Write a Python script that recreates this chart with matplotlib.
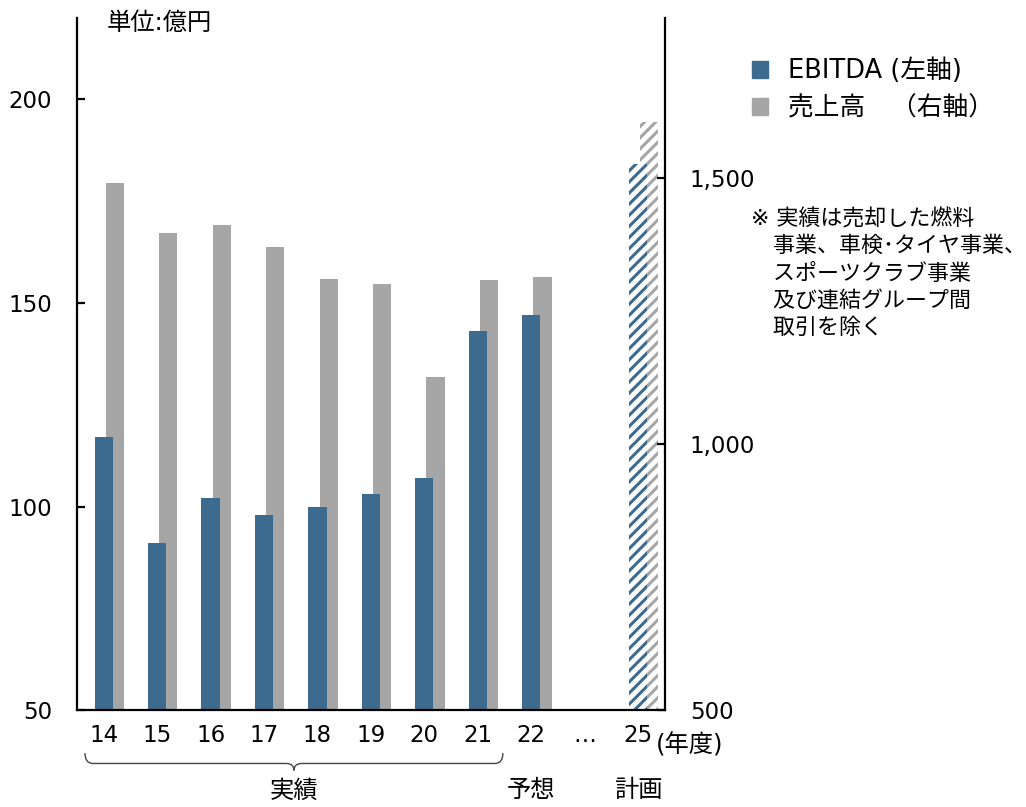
import numpy as np
import matplotlib
matplotlib.use("Agg")
import matplotlib.pyplot as plt
from matplotlib.patches import Patch, PathPatch
from matplotlib.path import Path
import matplotlib.transforms as mtransforms

plt.rcParams['font.family'] = ['DejaVu Sans', 'Noto Sans CJK JP']
plt.rcParams['hatch.linewidth'] = 2.2

# データ（単位：億円）
nendo = ["14", "15", "16", "17", "18", "19", "20", "21", "22", "…", "25"]
ebitda = [117, 91, 102, 98, 100, 103, 107, 143, 147, None, 184]
uriage = [1489, 1396, 1411, 1370, 1309, 1300, 1126, 1308, 1313, None, 1604]
keikaku = [False] * 10 + [True]

blue = "#3d6a8f"
gray = "#a6a6a6"

fig = plt.figure(figsize=(10.26, 8.07), dpi=100)
ax = fig.add_axes([0.075, 0.12, 0.573, 0.858])
ax2 = ax.twinx()
ax.set_zorder(ax2.get_zorder() + 1)
ax.patch.set_visible(False)

x = np.arange(len(nendo))
w = 0.34
off = 0.21

for i in range(len(nendo)):
    if ebitda[i] is None:
        continue
    if keikaku[i]:
        ax2.bar(x[i] + off, uriage[i], w, facecolor="white",
                edgecolor=gray, hatch="///", linewidth=0)
        ax.bar(x[i], ebitda[i], w, facecolor="white", edgecolor=blue,
               hatch="///", linewidth=0)
    else:
        ax2.bar(x[i] + off, uriage[i], w, color=gray)
        ax.bar(x[i], ebitda[i], w, color=blue)

ax.set_xlim(-0.5, len(nendo) - 0.5)
ax.set_ylim(50, 220)
ax2.set_ylim(500, 1800)
ax.set_yticks([50, 100, 150, 200])
ax2.set_yticks([500, 1000, 1500])
ax2.set_yticklabels(["{:,}".format(v) for v in [500, 1000, 1500]])
ax.set_xticks(x)
ax.set_xticklabels(nendo)

for s in ["top", "right"]:
    ax.spines[s].set_visible(False)
for s in ["top", "left", "bottom"]:
    ax2.spines[s].set_visible(False)
for a in [ax, ax2]:
    for s in a.spines.values():
        s.set_linewidth(1.6)
ax.tick_params(axis="y", direction="in", length=6, width=1.6, pad=18, labelsize=16.5)
ax2.tick_params(axis="y", direction="in", length=6, width=1.6, pad=18, labelsize=16.5)
ax.tick_params(axis="x", length=0, pad=10, labelsize=16.5)

# 凡例
handles = [Patch(color=blue, label="EBITDA (左軸)"),
           Patch(color=gray, label="売上高　（右軸）")]
fig.legend(handles=handles, loc="upper left", bbox_to_anchor=(0.715, 0.95),
           frameon=False, fontsize=18.5, handlelength=0.65, handleheight=0.65,
           handletextpad=0.75, labelspacing=0.42, borderaxespad=0.3)

fig.text(0.104, 0.972, "単位:億円", fontsize=17.5, va="center")
fig.text(0.639, 0.076, "(年度)", fontsize=17.5, va="center")

chuki = "※ 実績は売却した燃料\n　事業、車検･タイヤ事業、\n　スポーツクラブ事業\n　及び連結グループ間\n　取引を除く"
fig.text(0.732, 0.742, chuki, fontsize=15.8, va="top", linespacing=1.38)

# 中括弧
tr = mtransforms.blended_transform_factory(ax.transData, ax.transAxes)
x0, x1 = -0.35, 7.47
xm = (x0 + x1) / 2
yt, ym, yb = -0.062, -0.077, -0.087
r = 0.15
verts = [(x0, yt), (x0, ym), (x0 + r, ym),
         (xm - r, ym), (xm, ym), (xm, yb),
         (xm, ym), (xm + r, ym),
         (x1 - r, ym), (x1, ym), (x1, yt)]
codes = [Path.MOVETO, Path.CURVE3, Path.CURVE3,
         Path.LINETO, Path.CURVE3, Path.CURVE3,
         Path.CURVE3, Path.CURVE3,
         Path.LINETO, Path.CURVE3, Path.CURVE3]
ax.add_patch(PathPatch(Path(verts, codes), transform=tr, fill=False,
                       lw=1.0, color="#444444", clip_on=False))

ax.text(xm, -0.116, "実績", transform=tr, ha="center", va="center", fontsize=17.5)
ax.text(8, -0.116, "予想", transform=tr, ha="center", va="center", fontsize=17.5)
ax.text(10, -0.116, "計画", transform=tr, ha="center", va="center", fontsize=17.5)

fig.savefig("out.png", dpi=100)
